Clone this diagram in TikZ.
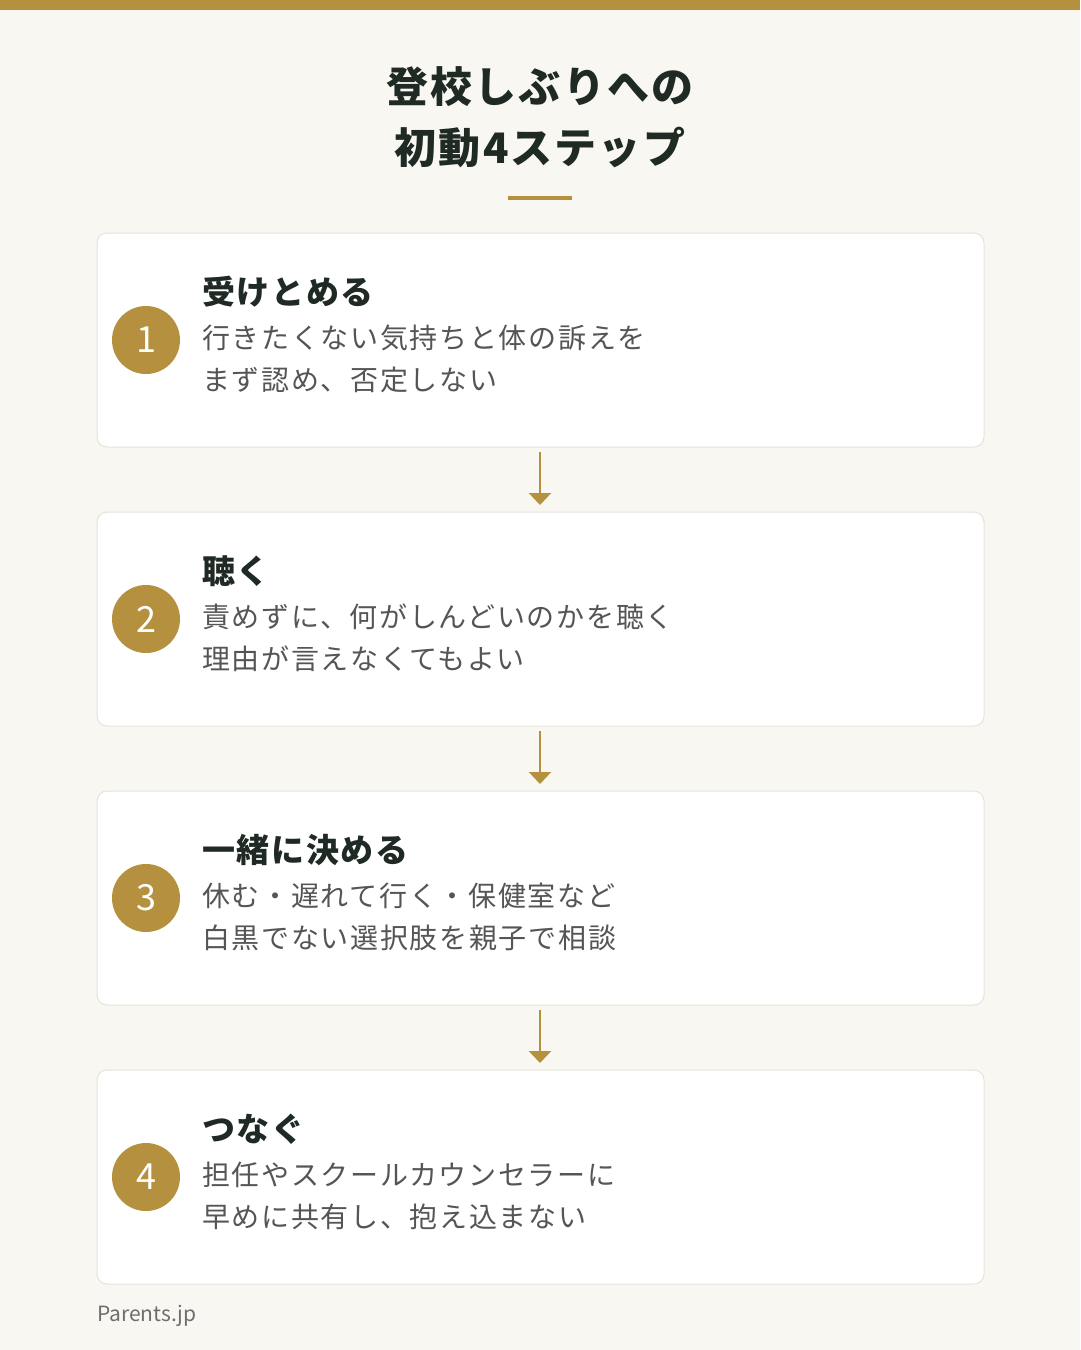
\documentclass[tikz,border=0pt]{standalone}
\usepackage{fontspec}
\setmainfont{Noto Sans CJK JP}
\usetikzlibrary{arrows.meta}
\definecolor{gold}{HTML}{B5913F}
\definecolor{bg}{HTML}{F8F7F2}
\definecolor{dark}{HTML}{1F2A24}
\definecolor{body}{HTML}{555555}
\definecolor{edge}{HTML}{E6E3DA}
\begin{document}
\begin{tikzpicture}[x=1pt,y=-1pt,
 box/.style={draw=edge,line width=1pt,fill=white,rounded corners=10pt},
 num/.style={circle,fill=gold,minimum size=68pt,inner sep=0pt,text=white,font=\fontsize{36}{40}\selectfont},
 head/.style={anchor=west,inner sep=0pt,text=dark,font=\fontsize{33}{38}\selectfont\bfseries\addfontfeature{LetterSpace=5}},
 txt/.style={anchor=west,inner sep=0pt,text=body,font=\fontsize{28}{32}\selectfont\addfontfeature{LetterSpace=6}},
 arr/.style={draw=gold,line width=2.5pt,-{Triangle[length=12pt,width=22pt]}}]
\fill[bg] (0,0) rectangle (1080,1350);
\useasboundingbox (0,0) rectangle (1080,1350);
\fill[gold] (0,0) rectangle (1080,10);
\node[text=dark,font=\fontsize{42}{48}\selectfont\bfseries\addfontfeature{LetterSpace=5},inner sep=0pt] (t1) at (540,87) {登校しぶりへの};
\node[text=dark,font=\fontsize{42}{48}\selectfont\bfseries\addfontfeature{LetterSpace=5},inner sep=0pt] (t2) at (540,147) {初動4ステップ};
\draw[gold,line width=4pt] (508,198) -- (572,198);
\foreach \i/\y/\h/\a/\b in {
 1/233/受けとめる/行きたくない気持ちと体の訴えを/まず認め、否定しない,
 2/512/聴く/責めずに、何がしんどいのかを聴く/理由が言えなくてもよい,
 3/791/一緒に決める/休む・遅れて行く・保健室など/白黒でない選択肢を親子で相談,
 4/1070/つなぐ/担任やスクールカウンセラーに/早めに共有し、抱え込まない}{
 \draw[box] (97,\y) rectangle (984,\y+214);
 \coordinate (b\i t) at (540,\y);
 \coordinate (b\i b) at (540,\y+214);
 \node[num] (n\i) at (146,\y+107) {\i};
 \node[head] (h\i) at (202,\y+59) {\h};
 \node[txt] (a\i) at (202,\y+105) {\a};
 \node[txt] (c\i) at (202,\y+147) {\b};
}
\draw[arr] ([yshift=-5]b1b) -- ([yshift=7]b2t);
\draw[arr] ([yshift=-5]b2b) -- ([yshift=7]b3t);
\draw[arr] ([yshift=-5]b3b) -- ([yshift=7]b4t);
\node[anchor=west,inner sep=0pt,text=body!85,font=\fontsize{21}{24}\selectfont] (f) at (97,1316) {Parents.jp};
\end{tikzpicture}
\end{document}
